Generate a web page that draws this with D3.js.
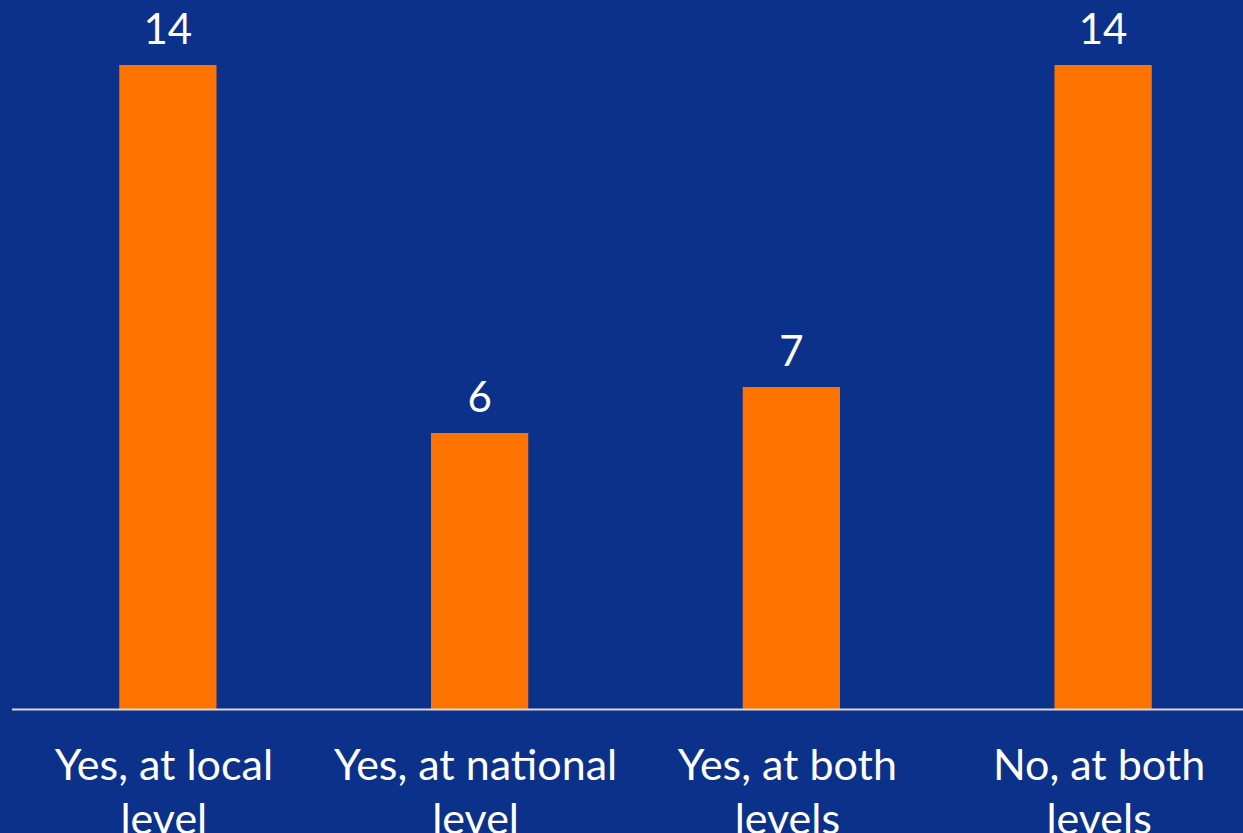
<!DOCTYPE html>
<html><head><meta charset="utf-8">
<script src="https://cdn.jsdelivr.net/npm/d3@7"></script>
<style>html,body{margin:0;padding:0;background:#0c318a;overflow:hidden}</style>
</head><body>
<svg id="chart" width="1243" height="833"></svg>
<script>
const categories = [["Yes, at local","level"],["Yes, at national","level"],["Yes, at both","levels"],["No, at both","levels"]];
const values = [14, 6, 7, 14];

const svg = d3.select("#chart");
svg.append("rect").attr("width",1243).attr("height",833).attr("fill","#0c318a");
const x = d3.scaleBand().domain(d3.range(categories.length)).range([12, 1259]).paddingInner(0.688).paddingOuter(0.344);
const y = d3.scaleLinear().domain([0, 14]).range([709, 65]);

svg.selectAll("rect.bar").data(values).join("rect").attr("class","bar")
  .attr("x",(d,i)=>x(i)).attr("width",x.bandwidth())
  .attr("y",d=>y(d)).attr("height",d=>y(0)-y(d)).attr("fill","#ff7300");

svg.append("line").attr("x1",12).attr("x2",1243).attr("y1",709.5).attr("y2",709.5)
  .attr("stroke","#d9d9d9").attr("stroke-width",2);

svg.selectAll("text.val").data(values).join("text").attr("class","val")
  .attr("x",(d,i)=>x(i)+x.bandwidth()/2).attr("y",d=>y(d)-21)
  .attr("text-anchor","middle").attr("fill","#fff")
  .style("font-family","Lato").style("font-size","42px").text(d=>d);

const g = svg.selectAll("text.cat").data(categories).join("text").attr("class","cat")
  .attr("text-anchor","middle").attr("fill","#fff")
  .style("font-family","Lato").style("font-size","43px");
g.each(function(lines,i){
  const t = d3.select(this);
  lines.forEach((l,j)=>{
    t.append("tspan").attr("x", x(i)+x.bandwidth()/2 - 4).attr("y", 780 + j*54).text(l);
  });
});
</script>
</body></html>
